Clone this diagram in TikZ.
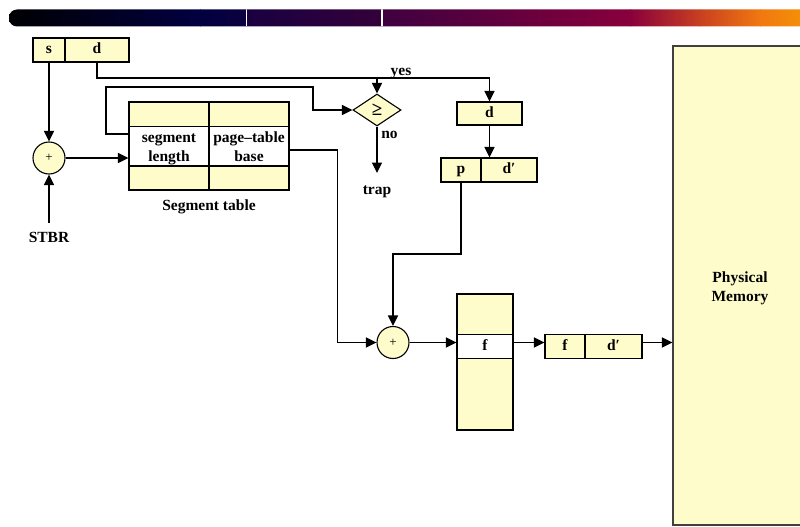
\documentclass[tikz,border=0pt]{standalone}
\usepackage{fontspec}
\setmainfont{Liberation Serif}
\usetikzlibrary{arrows.meta,shapes.geometric,calc}
\newcommand\tstrut[1]{\rule{0pt}{#1pt}}
\definecolor{pale}{RGB}{255,252,204}
\definecolor{gA}{RGB}{0,0,0}
\definecolor{gB}{RGB}{2,0,64}
\definecolor{gC}{RGB}{12,0,64}
\definecolor{gD}{RGB}{26,0,64}
\definecolor{gE}{RGB}{52,0,58}
\definecolor{gF}{RGB}{62,0,64}
\definecolor{gG}{RGB}{136,0,60}
\definecolor{gH}{RGB}{200,64,32}
\definecolor{gI}{RGB}{240,120,16}
\definecolor{gJ}{RGB}{248,160,0}
\tikzset{
  txt/.style={font=\bfseries\fontsize{15.5}{19}\selectfont},
  cell/.style={draw=black, line width=1.1pt, fill=pale, inner sep=0pt, txt, text height=10.5pt, text depth=3pt},
  twocell/.style={draw=black, line width=1.1pt, fill=white, inner sep=0pt, txt, align=center},
  wcell/.style={cell, fill=white},
  adder/.style={circle, draw=black, line width=1.1pt, fill=pale, minimum size=32pt, inner sep=0pt, font=\fontsize{13}{15}\selectfont},
  lbl/.style={txt, inner sep=0pt},
  conn/.style={line width=1.3pt, draw=black},
  arr/.style={conn, -{Triangle[length=10.5pt,width=10pt]}},
}
\begin{document}
\begin{tikzpicture}[x=1pt,y=-1pt]
\useasboundingbox (0,0) rectangle (800,527);
% top bar
\begin{scope}
\clip[rounded corners=8pt] (9,9.5) rectangle (830,26.5);
\shade[left color=gA, right color=gB] (0,9) rectangle (200.5,27);
\shade[left color=gB, right color=gC] (200,9) rectangle (246.5,27);
\shade[left color=gD, right color=gE] (246,9) rectangle (382,27);
\shade[left color=gF, right color=gG] (381.5,9) rectangle (630.5,27);
\shade[left color=gG, right color=gH] (630,9) rectangle (700.5,27);
\shade[left color=gH, right color=gI] (700,9) rectangle (760.5,27);
\shade[left color=gI, right color=gJ] (760,9) rectangle (830,27);
\fill[white] (245.5,9) rectangle (247,27);
\fill[white] (381,9) rectangle (382.5,27);
\end{scope}

% s | d
\node[cell, minimum width=32pt, minimum height=24pt] (s) at (49,50) {s};
\node[cell, minimum width=64pt, minimum height=24pt] (d) at (97,50) {d};

% adder 1 and STBR
\node[adder] (add1) at (49,158) {+};
\node[lbl, anchor=north, outer ysep=9pt] (stbr) at (49,223) {STBR};

% segment table
\node[cell, minimum width=80pt, minimum height=25pt] (st1) at (169,114.5) {};
\node[cell, minimum width=80pt, minimum height=25pt] (st2) at (249,114.5) {};
\node[twocell, minimum width=80pt, minimum height=39pt] (seglen) at (169,146.5) {\tstrut{15.7}segment\\length\strut};
\node[twocell, minimum width=80pt, minimum height=39pt] (ptbase) at (249,146.5) {\tstrut{15.7}page\textendash table\\base\strut};
\node[cell, minimum width=80pt, minimum height=24pt] (st5) at (169,178) {};
\node[cell, minimum width=80pt, minimum height=24pt] (st6) at (249,178) {};
\node[lbl] (stlabel) at (209,207) {Segment table};

% comparator
\node[diamond, draw=black, line width=1.1pt, fill=pale, minimum width=48pt, minimum height=32pt, inner sep=0pt, font=\bfseries\fontsize{19}{21}\selectfont] (cmp) at (377,110) {≥};
\node[lbl, anchor=north, outer ysep=13pt] (trap) at (377,173) {trap};
\node[lbl, anchor=base] (no) at (389.5,138) {no};
\node[lbl, anchor=base] (yes) at (401,75) {yes};

% d box and p|d'
\node[cell, minimum width=65pt, minimum height=23pt] (dbox) at (489.5,113.5) {d};
\node[cell, minimum width=40pt, minimum height=24pt] (p) at (461,170) {p};
\node[cell, minimum width=56pt, minimum height=24pt] (dp) at (509,170) {d′};

% adder 2 and page table
\node[adder] (add2) at (393,342.5) {+};
\node[cell, minimum width=56pt, minimum height=136pt] (ptab) at (485,362) {};
\node[wcell, minimum width=56pt, minimum height=24pt] (frow) at (485,346.3) {f};

% f | d'
\node[cell, minimum width=40pt, minimum height=24pt] (f2) at (565,346.3) {f};
\node[cell, minimum width=57pt, minimum height=24pt] (dp2) at (613.5,346.3) {d′};

% physical memory
\node[twocell, fill=pale, draw=black!75, minimum width=134pt, minimum height=479pt] (mem) at (740,285.5) {\tstrut{19}Physical\\Memory\strut};

% connectors
\coordinate (dtop) at (489.5,78);
\draw[arr] (s.south) -- (add1.north);
\draw[arr] (stbr.north) -- (add1.south);
\draw[arr] (add1.east) -- (add1.east -| seglen.west);
\draw[conn] (d.south) |- (dtop);
\draw[arr] (dtop) -- (dbox.north);
\draw[arr] (cmp.north |- dtop) -- (cmp.north);
\draw[arr] (seglen.west |- 0,134) -- (106,134) -- (106,87) -- (313,87) -- (313,110) -- (cmp.west);
\draw[arr] (cmp.south) -- (trap.north);
\draw[arr] (dbox.south) -- (dbox.south |- dp.north);
\draw[arr] (p.south) -- (461,254) -- (393,254) -- (add2.north);
\draw[arr] (ptbase.east |- 0,150) -- (337.5,150) -- (337.5,342.5) -- (add2.west);
\draw[arr] (add2.east) -- (add2.east -| frow.west);
\draw[arr] (frow.east |- add2.east) -- (f2.west |- add2.east);
\draw[arr] (dp2.east |- add2.east) -- (mem.west |- add2.east);
\end{tikzpicture}
\end{document}
